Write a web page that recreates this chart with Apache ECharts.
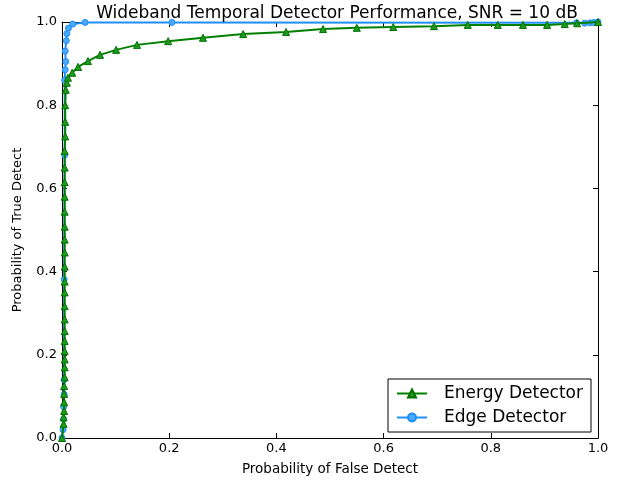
<!DOCTYPE html>
<html><head><meta charset="utf-8">
<script src="https://cdn.jsdelivr.net/npm/echarts@6/dist/echarts.min.js"></script>
<style>html,body{margin:0;padding:0;background:#fff}#c{width:620px;height:481px}</style>
</head><body><div id="c"></div>
<script>
var titleText = 'Wideband Temporal Detector Performance, SNR = 10 dB';
var xLabel = 'Probability of False Detect';
var yLabel = 'Probability of True Detect';
var seriesNames = ['Energy Detector', 'Edge Detector'];

var energyX = [0.000,0.003,0.003,0.004,0.004,0.004,0.004,0.005,0.005,0.005,0.005,0.005,0.005,0.005,0.005,0.005,0.005,0.005,0.005,0.005,0.005,0.005,0.005,0.005,0.005,0.005,0.006,0.006,0.006,0.007,0.009,0.011,0.019,0.030,0.0485,0.071,0.101,0.140,0.198,0.263,0.338,0.418,0.487,0.550,0.618,0.694,0.757,0.813,0.860,0.905,0.938,0.961,1.000];
var energyY = [0.000,0.034,0.050,0.065,0.086,0.106,0.125,0.146,0.170,0.189,0.209,0.233,0.257,0.285,0.317,0.350,0.376,0.412,0.446,0.477,0.508,0.544,0.580,0.615,0.650,0.690,0.725,0.760,0.800,0.837,0.854,0.866,0.878,0.892,0.906,0.921,0.933,0.945,0.954,0.962,0.971,0.976,0.983,0.986,0.988,0.990,0.993,0.993,0.993,0.993,0.995,0.997,1.000];

var edgeX = [0.000,0.002,0.003,0.003,0.004,0.004,0.004,0.005,0.005,0.006,0.007,0.006,0.008,0.009,0.012,0.020,0.043,0.205,0.960,0.975,0.985,0.992,1.000];
var edgeY = [0.000,0.020,0.045,0.075,0.105,0.140,0.381,0.680,0.860,0.885,0.905,0.930,0.955,0.972,0.985,0.995,0.999,0.999,0.998,0.997,0.998,0.999,1.000];

function pairs(xs, ys){ var o=[]; for(var i=0;i<Math.min(xs.length,ys.length);i++) o.push([xs[i],ys[i]]); return o; }

var F = 'DejaVu Sans';
var chart = echarts.init(document.getElementById('c'), null, {renderer:'canvas'});
var axisCommon = {
  min:0, max:1, interval:0.2,
  axisLine:{show:true, onZero:false, lineStyle:{color:'#000', width:1}},
  axisTick:{show:true, inside:true, length:5, lineStyle:{color:'#000'}},
  splitLine:{show:false}
};
chart.setOption({
  animation:false,
  backgroundColor:'#fff',
  title:{text:titleText, left:332, top:0, textAlign:'center',
    textStyle:{fontFamily:F, fontSize:17, fontWeight:'normal', color:'#000'}},
  grid:{left:62, right:22, top:22, bottom:42, containLabel:false},
  legend:{
    data:seriesNames, orient:'vertical', right:29, bottom:49,
    backgroundColor:'#fff', borderColor:'#000', borderWidth:1, padding:[6,8,6,8],
    itemWidth:30, itemHeight:10, itemGap:7,
    textStyle:{fontFamily:F, fontSize:17, color:'#000', padding:[0,0,0,12]}
  },
  xAxis:[
    Object.assign({}, axisCommon, {type:'value', position:'bottom', name:xLabel, nameLocation:'middle', nameGap:24,
      nameTextStyle:{fontFamily:F, fontSize:13.5, color:'#000'},
      axisLabel:{fontFamily:F, fontSize:13, color:'#000', margin:4, formatter:function(v){return v.toFixed(1);}}}),
    Object.assign({}, axisCommon, {type:'value', position:'top', axisLabel:{show:false}})
  ],
  yAxis:[
    Object.assign({}, axisCommon, {type:'value', position:'left', name:yLabel, nameLocation:'middle', nameGap:38,
      nameTextStyle:{fontFamily:F, fontSize:13, color:'#000'},
      axisLabel:{fontFamily:F, fontSize:13, color:'#000', margin:5, formatter:function(v){return v.toFixed(1);}}}),
    Object.assign({}, axisCommon, {type:'value', position:'right', axisLabel:{show:false}})
  ],
  series:[
    {name:seriesNames[0], type:'line', data:pairs(energyX, energyY), xAxisIndex:0, yAxisIndex:0, z:3,
      symbol:'triangle', symbolSize:7, showAllSymbol:true,
      lineStyle:{color:'#008000', width:2},
      itemStyle:{color:'#1f9a1f', borderColor:'#007000', borderWidth:1}},
    {name:seriesNames[1], type:'line', data:pairs(edgeX, edgeY), xAxisIndex:0, yAxisIndex:0, z:2,
      symbol:'circle', symbolSize:6, showAllSymbol:true,
      lineStyle:{color:'#1e8ff5', width:2},
      itemStyle:{color:'#4aa8ff', borderColor:'#1e8ff5', borderWidth:1}}
  ]
});
</script></body></html>
